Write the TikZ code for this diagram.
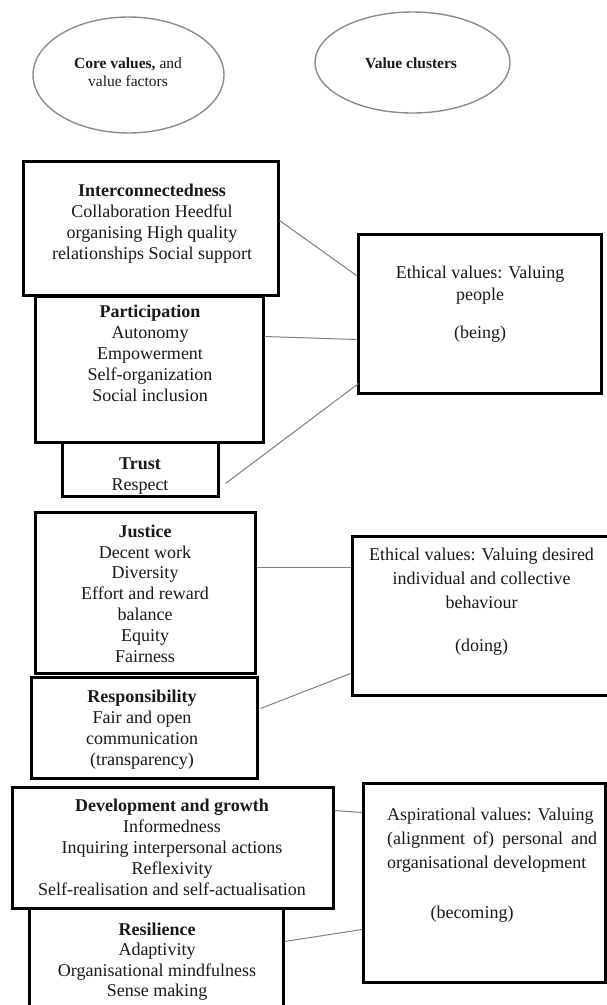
\documentclass[tikz,border=0pt]{standalone}
\usepackage{fontspec}
\setmainfont{Liberation Serif}
\usetikzlibrary{shapes.geometric,calc}
\tikzset{
  lbox/.style={draw=black, line width=3pt, rectangle, inner sep=0pt, fill=none},
  ell/.style={draw=black!45, line width=1.4pt, ellipse, inner sep=0pt},
  conn/.style={draw=black!50, line width=1pt},
  txt/.style={inner sep=0pt, align=center, text=black!90, font=\fontsize{18}{21}\selectfont},
  etxt/.style={inner sep=0pt, align=center, text=black!90, font=\fontsize{15.5}{18.5}\selectfont},
}
\begin{document}
\begin{tikzpicture}[x=1pt,y=-1pt]
\useasboundingbox (0,0) rectangle (607,1005);
\fill[white] (0,0) rectangle (607,1005);

% ellipses
\node[ell, minimum width=191pt, minimum height=116pt] (e1) at (128.5,75) {};
\node[etxt, anchor=base] (e1t) at (128,86.5) {\textbf{Core values,} and\\value factors};
\node[ell, minimum width=195pt, minimum height=101pt] (e2) at (412.5,62.5) {};
\node[etxt, anchor=base] (e2t) at (411,68) {\textbf{Value clusters}};

% left boxes
\node[lbox, minimum width=255pt, minimum height=134pt] (ic) at (150.5,228) {};
\node[txt, anchor=base] (ict) at (152,259) {\textbf{Interconnectedness}\\Collaboration Heedful\\organising High quality\\relationships Social support};

\node[lbox, minimum width=228pt, minimum height=146pt] (pa) at (149,369) {};
\node[txt, anchor=base] (pat) at (150,401) {\textbf{Participation}\\Autonomy\\Empowerment\\Self-organization\\Social inclusion};

\node[lbox, minimum width=156pt, minimum height=54pt] (tr) at (140,469) {};
\node[txt, anchor=base] (trt) at (140,490) {\textbf{Trust}\\Respect};

\node[lbox, minimum width=220pt, minimum height=161pt] (ju) at (145,592.5) {};
\node[txt, anchor=base, font=\fontsize{18}{20.8}\selectfont] (jut) at (145,662) {\textbf{Justice}\\Decent work\\Diversity\\Effort and reward\\balance\\Equity\\Fairness};

\node[lbox, minimum width=226pt, minimum height=101pt] (re) at (144,727.5) {};
\node[txt, anchor=base] (ret) at (142,765) {\textbf{Responsibility}\\Fair and open\\communication\\(transparency)};

\node[lbox, minimum width=321pt, minimum height=121pt] (dv) at (172.5,847.5) {};
\node[txt, anchor=base] (dvt) at (172,895) {\textbf{Development and growth}\\Informedness\\Inquiring interpersonal actions\\Reflexivity\\Self-realisation and self-actualisation};

\node[lbox, minimum width=254pt, minimum height=110pt] (rs) at (156,963) {};
\node[txt, anchor=base, font=\fontsize{18}{20.5}\selectfont] (rst) at (157,996.5) {\textbf{Resilience}\\Adaptivity\\Organisational mindfulness\\Sense making};

% right boxes
\node[lbox, minimum width=243pt, minimum height=159pt] (r1) at (479.5,313.5) {};
\node[txt, anchor=base, font=\fontsize{18}{22}\selectfont] (r1t) at (480,338) {Ethical values: Valuing\\people\\[16pt](being)};

\node[lbox, minimum width=258pt, minimum height=159pt] (r2) at (481,615.5) {};
\node[txt, anchor=base, font=\fontsize{18}{24}\selectfont] (r2t) at (481.5,651) {Ethical values: Valuing desired\\individual and collective\\behaviour\\[19pt](doing)};

\node[lbox, minimum width=242pt, minimum height=199pt] (r3) at (484.5,882.5) {};
\node[txt, anchor=base west, align=left, font=\fontsize{18}{24}\selectfont] (r3t) at (387,868) {Aspirational values: Valuing\\\makebox[210pt][s]{(alignment of) personal and}\\organisational development};
\node[txt, anchor=base] (r3b) at (472,918) {(becoming)};

% connectors
\draw[conn] ($(ic.north east)+(0,61)$) -- ($(r1.north west)+(0,43)$);
\draw[conn] ($(pa.north east)+(0,42)$) -- ($(r1.north west)+(0,107)$);
\draw[conn] ($(tr.north east)+(6,43)$) -- ($(r1.north west)+(2,151)$);
\draw[conn] ($(ju.north east)+(0,57)$) -- ($(r2.north west)+(0,33)$);
\draw[conn] ($(re.north east)+(2,33)$) -- ($(r2.north west)+(0,139)$);
\draw[conn] ($(dv.north east)+(0,25)$) -- ($(r3.north west)+(0,31)$);
\draw[conn] ($(rs.north east)+(0,35)$) -- ($(r3.north west)+(0,148)$);
\end{tikzpicture}
\end{document}
